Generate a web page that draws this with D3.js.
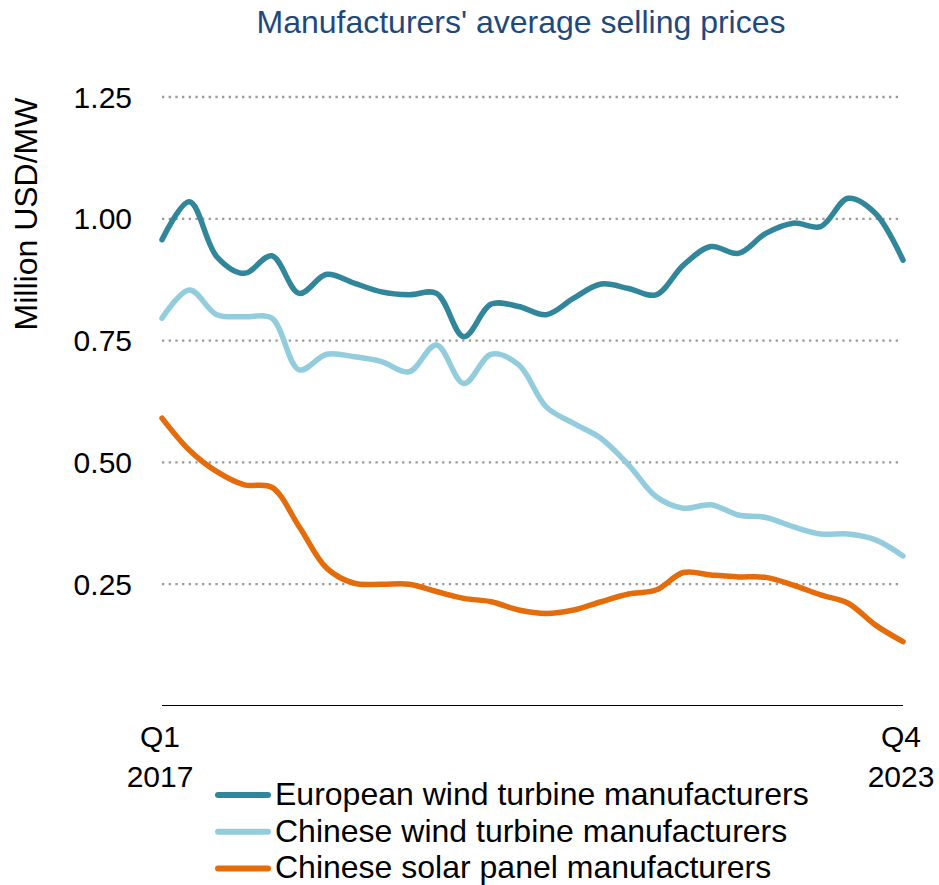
<!DOCTYPE html>
<html>
<head>
<meta charset="utf-8">
<script src="https://cdn.jsdelivr.net/npm/d3@7"></script>
<style>
  html, body { margin: 0; padding: 0; background: #fff; }
  svg { display: block; font-family: "Liberation Sans", Arial, sans-serif; }
</style>
</head>
<body>
<svg id="chart" width="939" height="885"></svg>
<script>
// Quarterly periods, Q1 2017 through Q4 2023
const years = [2017, 2018, 2019, 2020, 2021, 2022, 2023];
const quarters = years.flatMap(y => [1, 2, 3, 4].map(q => `Q${q} ${y}`));

// Average selling prices, million USD per MW
const europeanWind = [
  0.957, 1.035, 0.922, 0.888, 0.924, 0.847, 0.886, 0.868, 0.850, 0.844,
  0.847, 0.758, 0.825, 0.820, 0.803, 0.837, 0.866, 0.857, 0.844, 0.905,
  0.943, 0.929, 0.970, 0.991, 0.984, 1.042, 1.011, 0.915
];
const chineseWind = [
  0.796, 0.854, 0.803, 0.799, 0.796, 0.690, 0.722, 0.717, 0.707, 0.686,
  0.741, 0.662, 0.722, 0.700, 0.614, 0.580, 0.549, 0.495, 0.430, 0.406,
  0.413, 0.392, 0.387, 0.368, 0.353, 0.353, 0.341, 0.308
];
const chineseSolar = [
  0.591, 0.525, 0.481, 0.454, 0.449, 0.368, 0.283, 0.252, 0.250, 0.250,
  0.235, 0.221, 0.214, 0.197, 0.190, 0.197, 0.214, 0.230, 0.238, 0.274,
  0.269, 0.265, 0.264, 0.248, 0.228, 0.211, 0.166, 0.132
];

const seriesNames = [
  "European wind turbine manufacturers",
  "Chinese wind turbine manufacturers",
  "Chinese solar panel manufacturers"
];
const seriesColors = ["#31869b", "#93cddd", "#e46c0a"];
const yTicks = [0.25, 0.5, 0.75, 1.0, 1.25];

const series = [europeanWind, chineseWind, chineseSolar].map((values, i) => ({
  name: seriesNames[i],
  color: seriesColors[i],
  values
}));

const svg = d3.select("#chart");
const plot = { left: 162, right: 903, top: 97, bottom: 706 };

const x = d3.scalePoint()
  .domain(quarters)
  .range([plot.left, plot.right]);

const y = d3.scaleLinear()
  .domain([0, 1.25])
  .range([plot.bottom, plot.top]);

// Title
svg.append("text")
  .attr("x", 521)
  .attr("y", 33)
  .attr("text-anchor", "middle")
  .attr("fill", "#1f497d")
  .style("font-size", "32px")
  .text("Manufacturers' average selling prices");

// Y axis title
svg.append("text")
  .attr("transform", "translate(37,214) rotate(-90)")
  .attr("text-anchor", "middle")
  .attr("fill", "#000")
  .style("font-size", "32px")
  .text("Million USD/MW");

// Dotted horizontal gridlines
svg.append("g")
  .selectAll("line")
  .data(yTicks)
  .join("line")
  .attr("x1", plot.left)
  .attr("x2", 898)
  .attr("y1", d => y(d))
  .attr("y2", d => y(d))
  .attr("stroke", "#9a9a9a")
  .attr("stroke-width", 2.3)
  .attr("stroke-dasharray", "2.3 4.37");

// Y axis tick labels
const yAxis = d3.axisLeft(y)
  .tickValues(yTicks)
  .tickFormat(d3.format(".2f"))
  .tickSize(0)
  .tickPadding(0);

const yAxisG = svg.append("g")
  .attr("transform", `translate(132,0)`)
  .call(yAxis);
yAxisG.select(".domain").remove();
yAxisG.selectAll("text")
  .attr("dy", null)
  .attr("y", 10)
  .attr("fill", "#000")
  .style("font-family", "'Liberation Sans', Arial, sans-serif")
  .style("font-size", "30px");

// X axis baseline
svg.append("line")
  .attr("x1", plot.left)
  .attr("x2", plot.right)
  .attr("y1", 705.5)
  .attr("y2", 705.5)
  .attr("stroke", "#000")
  .attr("stroke-width", 1);

// X axis end labels
const xLabelQuarters = [quarters[0], quarters[quarters.length - 1]];
const xLabels = svg.append("g")
  .selectAll("text")
  .data(xLabelQuarters)
  .join("text")
  .attr("x", d => x(d) - 2)
  .attr("text-anchor", "middle")
  .attr("fill", "#000")
  .style("font-size", "30px");
xLabels.append("tspan")
  .attr("x", d => x(d) - 2)
  .attr("y", 746.5)
  .text(d => d.split(" ")[0]);
xLabels.append("tspan")
  .attr("x", d => x(d) - 2)
  .attr("y", 786.5)
  .text(d => d.split(" ")[1]);

// Series lines
const line = d3.line()
  .x((d, i) => x(quarters[i]))
  .y(d => y(d))
  .curve(d3.curveCatmullRom.alpha(0.5));

svg.append("g")
  .selectAll("path")
  .data(series)
  .join("path")
  .attr("d", d => line(d.values))
  .attr("fill", "none")
  .attr("stroke", d => d.color)
  .attr("stroke-width", 5.5)
  .attr("stroke-linecap", "round")
  .attr("stroke-linejoin", "round");

// Legend
const legend = svg.append("g")
  .selectAll("g")
  .data(series)
  .join("g")
  .attr("transform", (d, i) => `translate(0,${795 + i * 36.7})`);

legend.append("line")
  .attr("x1", 218)
  .attr("x2", 268)
  .attr("stroke", d => d.color)
  .attr("stroke-width", 6)
  .attr("stroke-linecap", "round");

legend.append("text")
  .attr("x", 275)
  .attr("y", 10)
  .attr("fill", "#000")
  .style("font-size", "32px")
  .text(d => d.name);
</script>
</body>
</html>
